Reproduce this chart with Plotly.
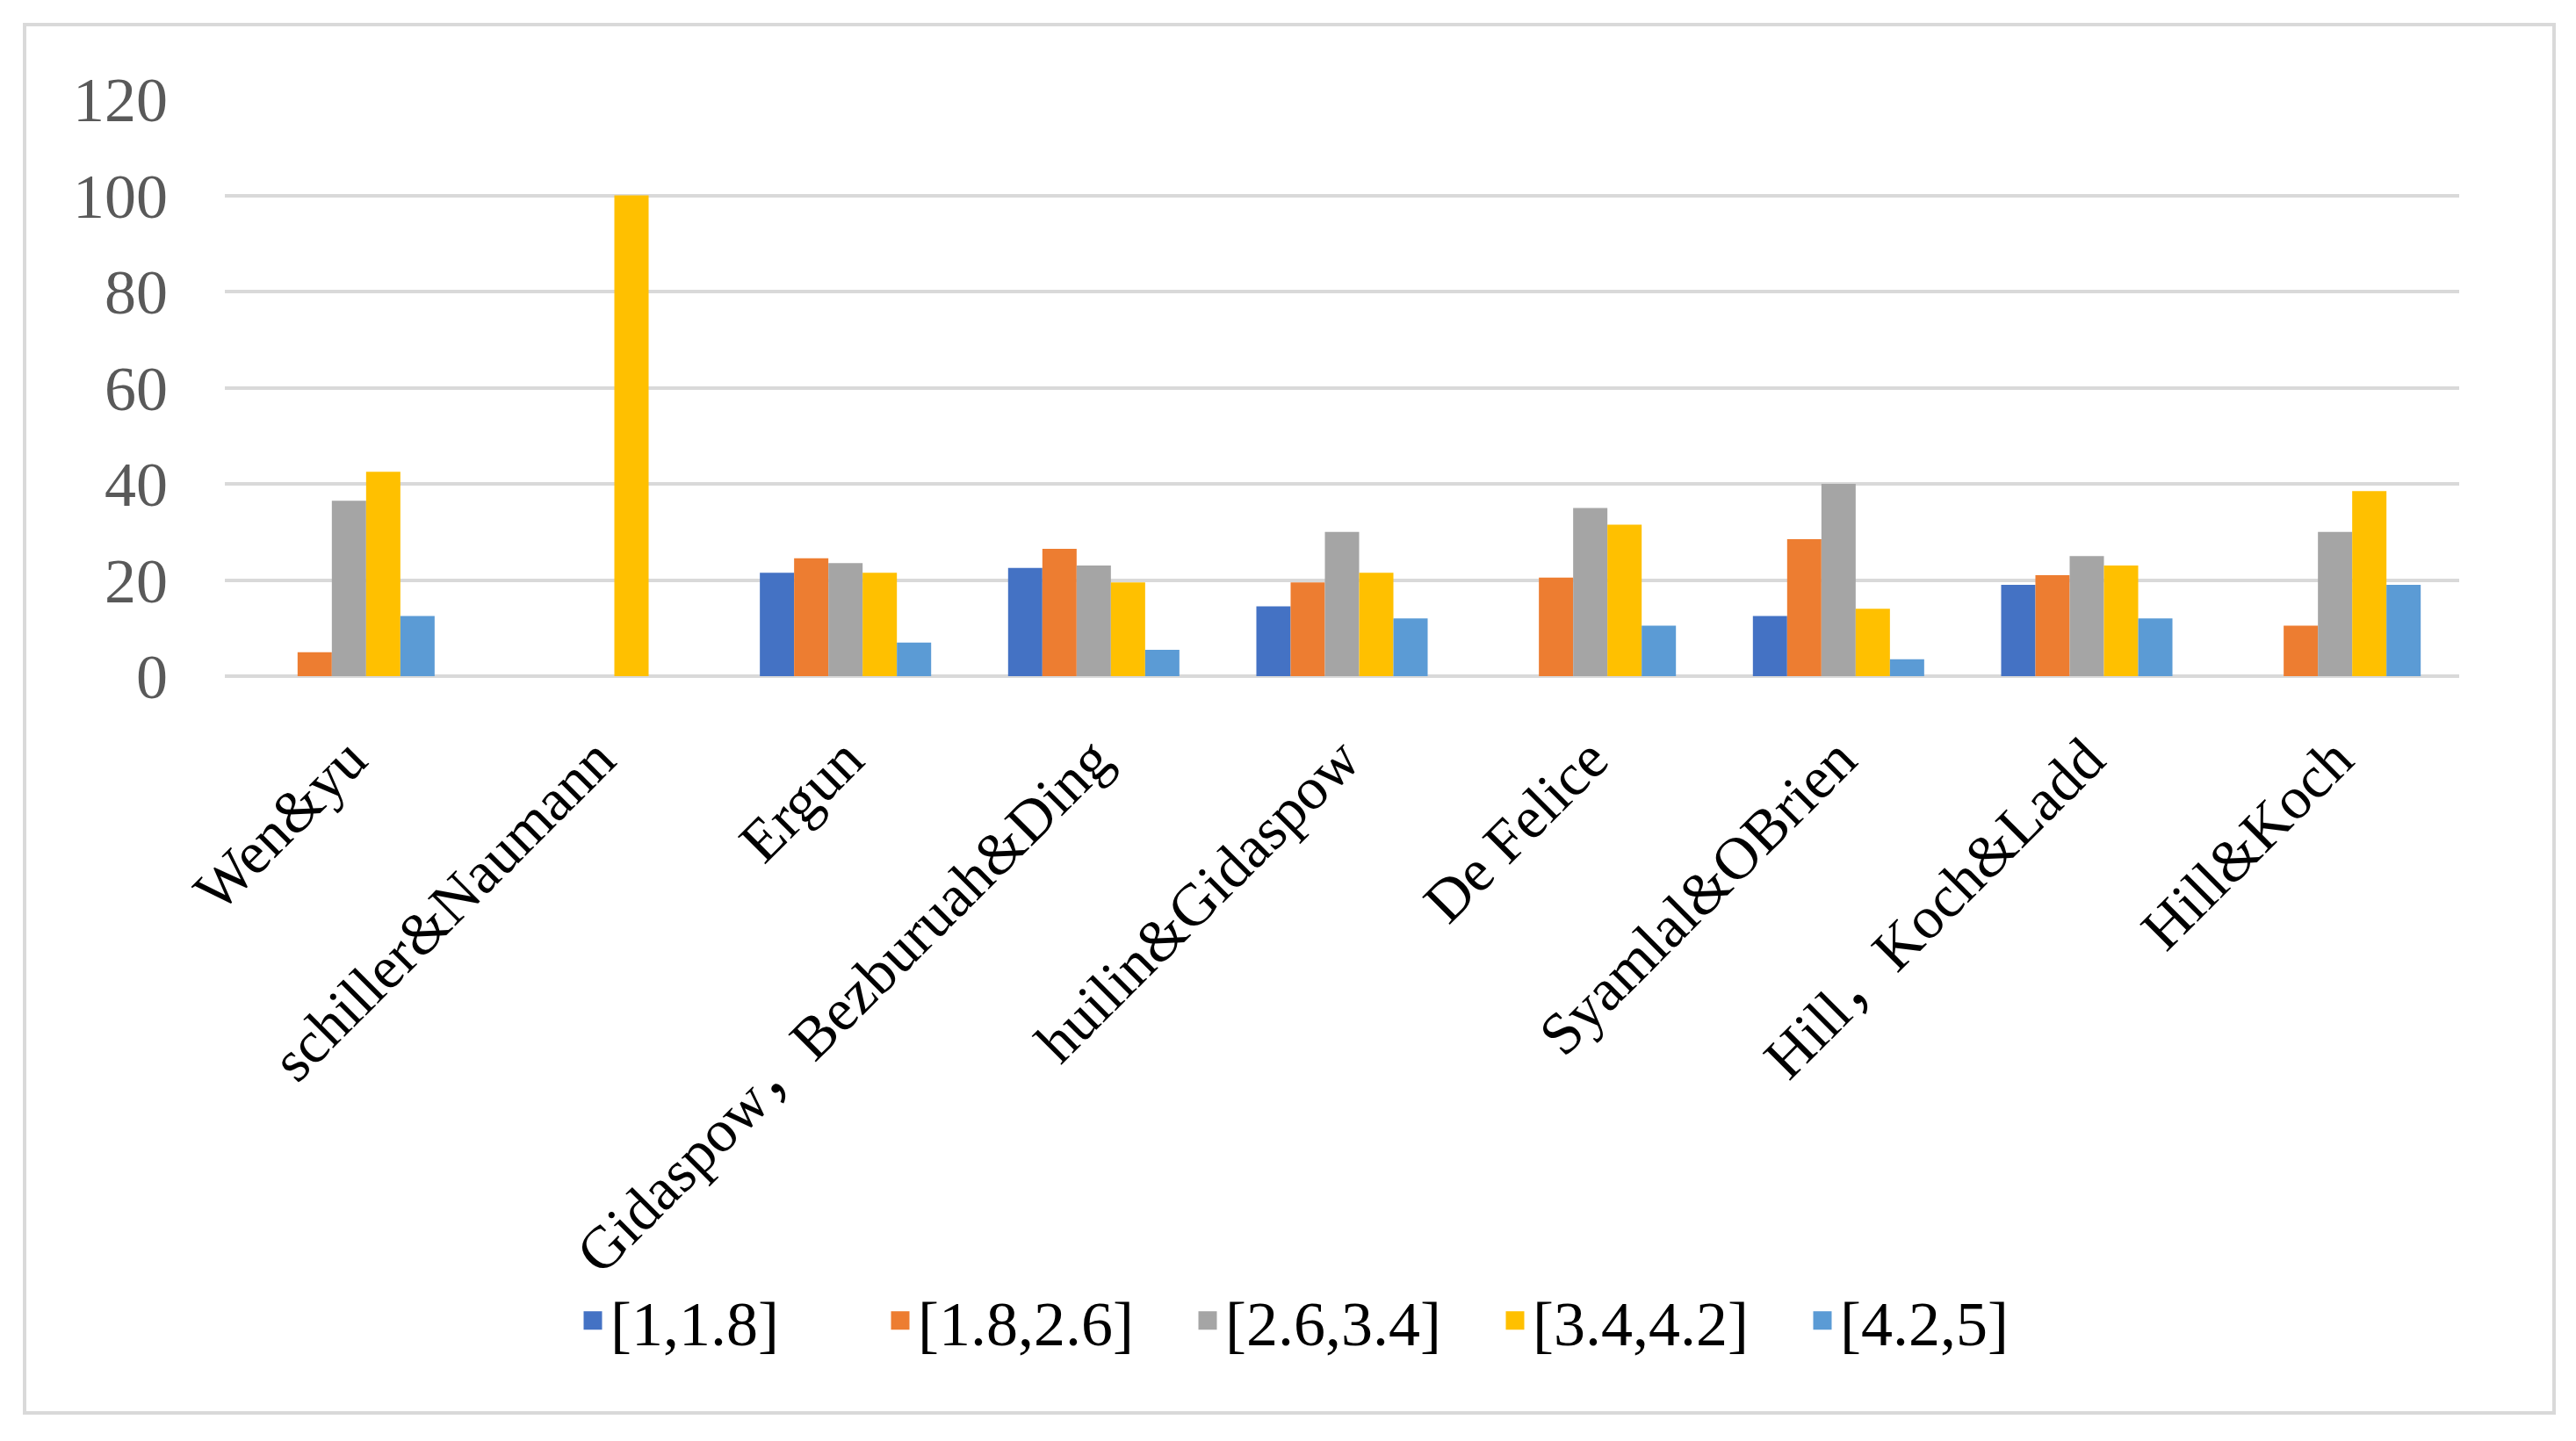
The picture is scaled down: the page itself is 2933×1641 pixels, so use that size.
import plotly.graph_objects as go

categories = ["Wen&yu", "schiller&Naumann", "Ergun", "Gidaspow，Bezburuah&Ding",
              "huilin&Gidaspow", "De Felice", "Syamlal&OBrien", "Hill，Koch&Ladd", "Hill&Koch"]
series_names = ["[1,1.8]", "[1.8,2.6]", "[2.6,3.4]", "[3.4,4.2]", "[4.2,5]"]
s_1_18 = [0, 0, 21.5, 22.5, 14.5, 0, 12.5, 19, 0]
s_18_26 = [5, 0, 24.5, 26.5, 19.5, 20.5, 28.5, 21, 10.5]
s_26_34 = [36.5, 0, 23.5, 23, 30, 35, 40, 25, 30]
s_34_42 = [42.5, 100, 21.5, 19.5, 21.5, 31.5, 14, 23, 38.5]
s_42_5 = [12.5, 0, 7, 5.5, 12, 10.5, 3.5, 12, 19]
y_ticks = [0, 20, 40, 60, 80, 100, 120]

series_values = [s_1_18, s_18_26, s_26_34, s_34_42, s_42_5]
colors = ["#4472C4", "#ED7D31", "#A5A5A5", "#FFC000", "#5B9BD5"]

W, H = 2933, 1641
ml, mr, mt, mb = 248, 141, 105, 879
pw, ph = W - ml - mr, H - mt - mb

fig = go.Figure()
for name, vals, col in zip(series_names, series_values, colors):
    fig.add_trace(go.Bar(x=categories, y=vals, name=name, marker_color=col,
                         marker_line_width=0, showlegend=False))
for name, col in zip(series_names, colors):
    fig.add_trace(go.Scatter(x=[None], y=[None], mode="markers", name=name,
                             marker=dict(symbol="square", size=16, color=col,
                                         line=dict(color=col, width=5))))

serif = "Liberation Serif, Noto Sans CJK SC"
legend_y_px = 1496
fig.update_layout(
    width=W, height=H,
    margin=dict(l=ml, r=mr, t=mt, b=mb),
    paper_bgcolor="white", plot_bgcolor="white",
    barmode="group", bargap=0.31, bargroupgap=0,
    font=dict(family=serif, color="#000000"),
    legend=dict(orientation="h", x=(1522 - ml) / pw, xanchor="center",
                y=-(legend_y_px - (mt + ph)) / ph, yanchor="middle",
                font=dict(family=serif, size=72, color="#000000"),
                itemwidth=30, entrywidth=305, bgcolor="rgba(0,0,0,0)"),
    xaxis=dict(type="category", tickangle=-45, showgrid=False, ticks="",
               showline=False, zeroline=False,
               tickfont=dict(family=serif, size=68, color="#000000"),
               ticklabelstandoff=40),
    yaxis=dict(range=[0, 120], tickvals=y_ticks, showgrid=True, gridcolor="#D9D9D9",
               gridwidth=4, zeroline=True, zerolinecolor="#D9D9D9", zerolinewidth=4,
               showline=False, ticks="",
               tickfont=dict(family=serif, size=72, color="#595959"),
               ticklabelstandoff=64),
)

# outer chart border
bx0, bx1, by0, by1 = 20, 2900, 20, 1601
fig.add_shape(type="rect", xref="paper", yref="paper",
              x0=(bx0 - ml) / pw, x1=(bx1 - ml) / pw,
              y0=(mt + ph - by1) / ph, y1=(mt + ph - by0) / ph,
              line=dict(color="#D9D9D9", width=4), fillcolor="rgba(0,0,0,0)", layer="below")

fig.write_html("out.html")
